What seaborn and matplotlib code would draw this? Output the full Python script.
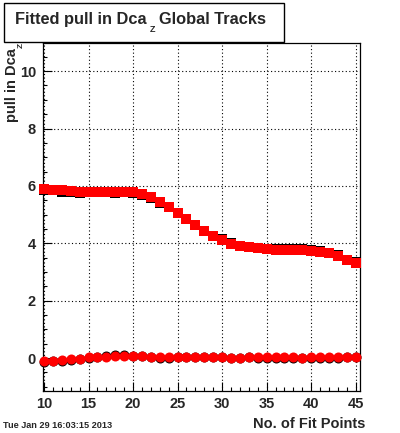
import matplotlib
matplotlib.use("Agg")
import matplotlib.pyplot as plt
import seaborn as sns
import pandas as pd
from matplotlib.patches import Rectangle
from matplotlib.ticker import MultipleLocator

# ---- data ----
fit_points = [10, 11, 12, 13, 14, 15, 16, 17, 18, 19, 20, 21, 22, 23, 24, 25, 26, 27,
              28, 29, 30, 31, 32, 33, 34, 35, 36, 37, 38, 39, 40, 41, 42, 43, 44, 45]
sigma_red = [5.90, 5.87, 5.84, 5.81, 5.79, 5.79, 5.80, 5.80, 5.80, 5.80, 5.78, 5.71,
             5.60, 5.45, 5.28, 5.07, 4.86, 4.65, 4.44, 4.26, 4.12, 3.99, 3.91, 3.86,
             3.82, 3.79, 3.77, 3.77, 3.77, 3.77, 3.74, 3.70, 3.67, 3.56, 3.41, 3.32]
sigma_black = [5.87, 5.84, 5.80, 5.77, 5.76, 5.77, 5.78, 5.77, 5.76, 5.78, 5.76, 5.69,
               5.58, 5.42, 5.27, 5.06, 4.85, 4.64, 4.43, 4.25, 4.15, 4.01, 3.92, 3.86,
               3.82, 3.80, 3.80, 3.80, 3.80, 3.79, 3.76, 3.72, 3.66, 3.58, 3.43, 3.33]
mean_red = [-0.09, -0.09, -0.08, -0.05, -0.02, 0.02, 0.05, 0.05, 0.07, 0.08, 0.06, 0.06,
            0.05, 0.02, 0.02, 0.02, 0.02, 0.02, 0.02, 0.02, 0.02, 0.01, 0.01, 0.02,
            0.02, 0.02, 0.02, 0.02, 0.02, 0.01, 0.02, 0.02, 0.02, 0.02, 0.03, 0.03]
mean_black = [-0.14, -0.11, -0.10, -0.06, -0.03, 0.01, 0.04, 0.06, 0.10, 0.12, 0.07, 0.06,
              0.04, 0.01, 0.01, 0.02, 0.02, 0.03, 0.05, 0.04, 0.02, 0.01, 0.01, 0.02,
              0.01, 0.01, 0.01, 0.01, 0.01, 0.00, 0.01, 0.01, 0.01, 0.01, 0.02, 0.02]

x_ticks = [10, 15, 20, 25, 30, 35, 40, 45]
y_ticks = [0, 2, 4, 6, 8, 10]

sns.set_style("ticks")
plt.rcParams["font.family"] = ["Liberation Sans", "DejaVu Sans"]
plt.rcParams["font.weight"] = "bold"

W, H = 400, 433
fig = plt.figure(figsize=(W / 100, H / 100), dpi=100)
fig.patch.set_facecolor("white")

def fx(px):
    return px / W

def fy(py):
    return 1 - py / H

ax_l, ax_r, ax_t, ax_b = 43, 360, 43.3, 391
ax = fig.add_axes([fx(ax_l), fy(ax_b), (ax_r - ax_l) / W, (ax_b - ax_t) / H])
ax.set_facecolor("white")

df = pd.DataFrame({
    "n": fit_points,
    "sig_r": sigma_red, "sig_b": sigma_black,
    "mean_r": mean_red, "mean_b": mean_black,
})

sq = 6.6
ci = 7.2
sns.scatterplot(data=df, x="n", y="sig_b", marker="s", s=sq ** 2, color="black",
                linewidth=0, ax=ax, zorder=3, clip_on=False)
sns.scatterplot(data=df, x="n", y="mean_b", marker="o", s=ci ** 2, color="black",
                linewidth=0, ax=ax, zorder=3, clip_on=False)
sns.scatterplot(data=df, x="n", y="sig_r", marker="s", s=sq ** 2, color="red",
                linewidth=0, ax=ax, zorder=4, clip_on=False)
sns.scatterplot(data=df, x="n", y="mean_r", marker="o", s=ci ** 2, color="red",
                linewidth=0, ax=ax, zorder=4, clip_on=False)

ax.set_xlim(9.89, 45.48)
ax.set_ylim(-1.15, 10.97)
ax.set_xticks(x_ticks)
ax.set_yticks(y_ticks)
ax.xaxis.set_minor_locator(MultipleLocator(1))
ax.yaxis.set_minor_locator(MultipleLocator(0.5))
ax.set_xlabel("")
ax.set_ylabel("")

ax.grid(True, which="major", color="black", linestyle=(0, (1, 2.2)), linewidth=0.8)
ax.set_axisbelow(True)

for s in ax.spines.values():
    s.set_visible(True)
    s.set_color("black")
    s.set_linewidth(0.9)

ax.tick_params(axis="both", which="major", direction="in", length=6.5, width=0.8,
               labelsize=10.5, color="black")
ax.tick_params(axis="both", which="minor", direction="in", length=3.2, width=0.8,
               color="black")
ax.tick_params(axis="x", which="major", pad=4)
ax.tick_params(axis="y", which="major", pad=5)
ax.tick_params(top=False, right=False, which="both")
for lab in ax.get_xticklabels() + ax.get_yticklabels():
    lab.set_fontweight("bold")

# ---- title box ----
fig.add_artist(Rectangle((fx(4), fy(42)), (284 - 4) / W, (42 - 2.5) / H,
                         transform=fig.transFigure, facecolor="white",
                         edgecolor="black", linewidth=1.0, zorder=10))

title_fs = 11.8
fig.text(fx(147), fy(24), "Fitted pull in Dca", ha="right", va="baseline",
         fontsize=title_fs, fontweight="bold", zorder=11)
fig.text(fx(159), fy(24), "Global Tracks", ha="left", va="baseline",
         fontsize=title_fs, fontweight="bold", zorder=11)
fig.text(fx(152), fy(30), "Z", ha="center", va="center",
         fontsize=6.5, fontweight="bold", zorder=11)

# ---- y label ----
fig.text(fx(12.5), fy(48), "pull in Dca", rotation=90, ha="center", va="top",
         fontsize=10.5, fontweight="bold")
fig.text(fx(21), fy(45), "Z", rotation=90, ha="center", va="center",
         fontsize=6, fontweight="bold")

# ---- x label ----
fig.text(fx(365), fy(428), "No. of Fit Points", ha="right", va="baseline",
         fontsize=10.5, fontweight="bold")

# ---- date stamp ----
fig.text(fx(3), fy(428), "Tue Jan 29 16:03:15 2013", ha="left", va="baseline",
         fontsize=6.6, fontweight="bold")

fig.savefig("out.png", dpi=100, facecolor="white")
